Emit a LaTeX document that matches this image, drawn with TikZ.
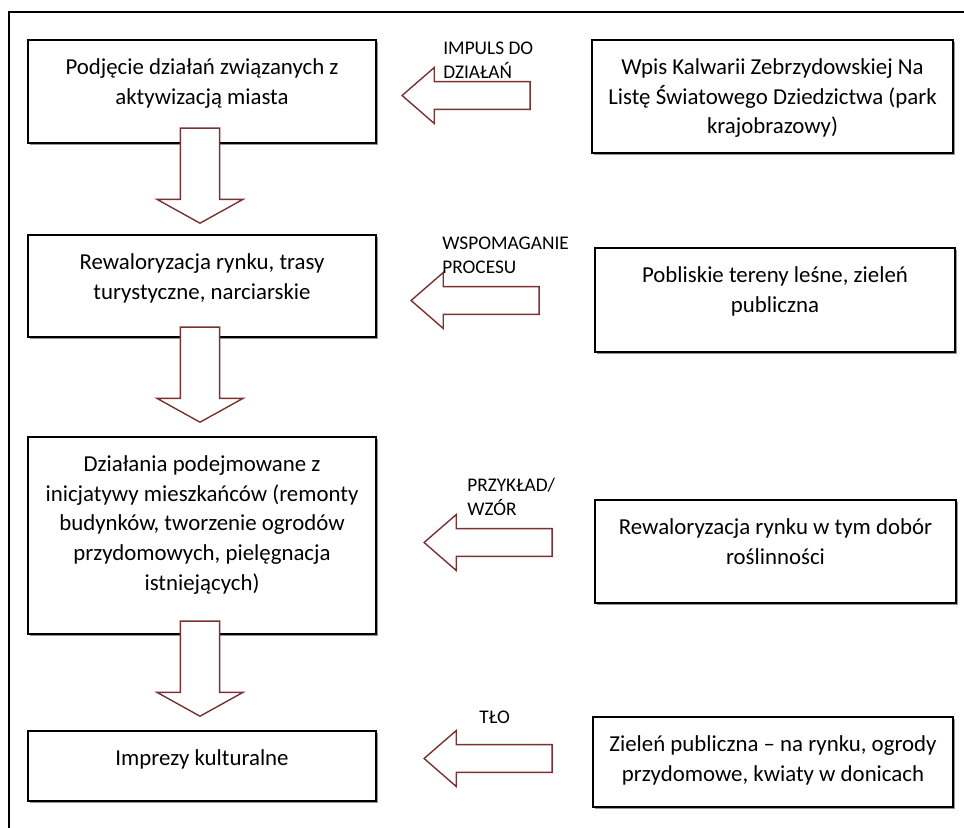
\documentclass[tikz,border=0pt]{standalone}
\usepackage{fontspec}
\setmainfont{Carlito}
\usetikzlibrary{shapes.arrows,shadows}

\definecolor{brazowy}{RGB}{122,50,50}
\newcommand{\pix}{0.02cm}

\tikzset{
  ramka/.style={draw, line width=1.1pt, fill=white, inner sep=0pt,
    drop shadow={shadow xshift=1.3pt, shadow yshift=-1.3pt, fill=black!45, opacity=0.9}},
  tekst/.style={anchor=north, align=center, inner sep=0pt,
    font=\fontsize{13}{17}\selectfont},
  etykieta/.style={anchor=north west, align=left, inner sep=0pt,
    font=\fontsize{11}{13.6}\selectfont},
  strzalka/.style={single arrow, draw=brazowy, line width=0.8pt, fill=white,
    single arrow head indent=0pt, anchor=tip},
  wlewo/.style={strzalka, shape border rotate=180, inner sep=13*\pix,
    minimum height=128*\pix, minimum width=56*\pix,
    single arrow head extend=14*\pix, single arrow tip angle=82},
  wdol/.style={strzalka, shape border rotate=270, inner sep=18.5*\pix,
    minimum height=95*\pix, minimum width=86*\pix,
    single arrow head extend=23*\pix, single arrow tip angle=122}
}

\begin{document}
\begin{tikzpicture}[x=\pix, y=-\pix]
    \useasboundingbox (0,0) rectangle (964,828);

    % Ramka zewnętrzna
    \draw[line width=0.8pt] (9,828) -- (9,12) -- (964,12);

    % Lewa kolumna
    \node[ramka, minimum width=348*\pix, minimum height=103*\pix] (lewy1) at (202,91.5) {};
    \node[ramka, minimum width=348*\pix, minimum height=102*\pix] (lewy2) at (202,286) {};
    \node[ramka, minimum width=348*\pix, minimum height=197*\pix] (lewy3) at (202,535.5) {};
    \node[ramka, minimum width=348*\pix, minimum height=70*\pix] (lewy4) at (202,766) {};

    % Prawa kolumna
    \node[ramka, minimum width=361*\pix, minimum height=113*\pix] (prawy1) at (772.5,96.5) {};
    \node[ramka, minimum width=360*\pix, minimum height=104*\pix] (prawy2) at (775,300) {};
    \node[ramka, minimum width=361*\pix, minimum height=103*\pix] (prawy3) at (775.5,551.5) {};
    \node[ramka, minimum width=360*\pix, minimum height=90*\pix] (prawy4) at (773,762) {};

    % Teksty w ramkach
    \node[tekst] (t1) at ([yshift=-19*\pix]lewy1.north) {Podjęcie działań związanych z\\aktywizacją miasta};
    \node[tekst] (t2) at ([yshift=-19*\pix]lewy2.north) {Rewaloryzacja rynku, trasy\\turystyczne, narciarskie};
    \node[tekst] (t3) at ([yshift=-19*\pix]lewy3.north) {Działania podejmowane z\\inicjatywy mieszkańców (remonty\\budynków, tworzenie ogrodów\\przydomowych, pielęgnacja\\istniejących)};
    \node[tekst] (t4) at ([yshift=-19*\pix]lewy4.north) {Imprezy kulturalne};
    \node[tekst] (t5) at ([yshift=-19*\pix]prawy1.north) {Wpis Kalwarii Zebrzydowskiej Na\\Listę Światowego Dziedzictwa (park\\krajobrazowy)};
    \node[tekst] (t6) at ([yshift=-19*\pix]prawy2.north) {Pobliskie tereny leśne, zieleń\\publiczna};
    \node[tekst] (t7) at ([yshift=-19*\pix]prawy3.north) {Rewaloryzacja rynku w tym dobór\\roślinności};
    \node[tekst] (t8) at ([yshift=-19*\pix]prawy4.north) {Zieleń publiczna – na rynku, ogrody\\przydomowe, kwiaty w donicach};

    % Strzałki w dół (ostrze w podanym punkcie)
    \node[wdol] (dol1) at (200,224) {};
    \node[wdol] (dol2) at (200,423) {};
    \node[wdol] (dol3) at (200,717) {};

    % Strzałki w lewo
    \node[wlewo] (lewo1) at (401,95.5) {};
    \node[wlewo] (lewo2) at (410,300.5) {};
    \node[wlewo] (lewo3) at (423,542.5) {};
    \node[wlewo] (lewo4) at (423,758.5) {};

    % Etykiety strzałek
    \node[etykieta] (e1) at (443,42) {IMPULS DO\\DZIAŁAŃ};
    \node[etykieta] (e2) at (442,237) {WSPOMAGANIE\\PROCESU};
    \node[etykieta] (e3) at (467,478) {PRZYKŁAD/\\WZÓR};
    \node[etykieta] (e4) at (479,711) {TŁO};
\end{tikzpicture}
\end{document}
